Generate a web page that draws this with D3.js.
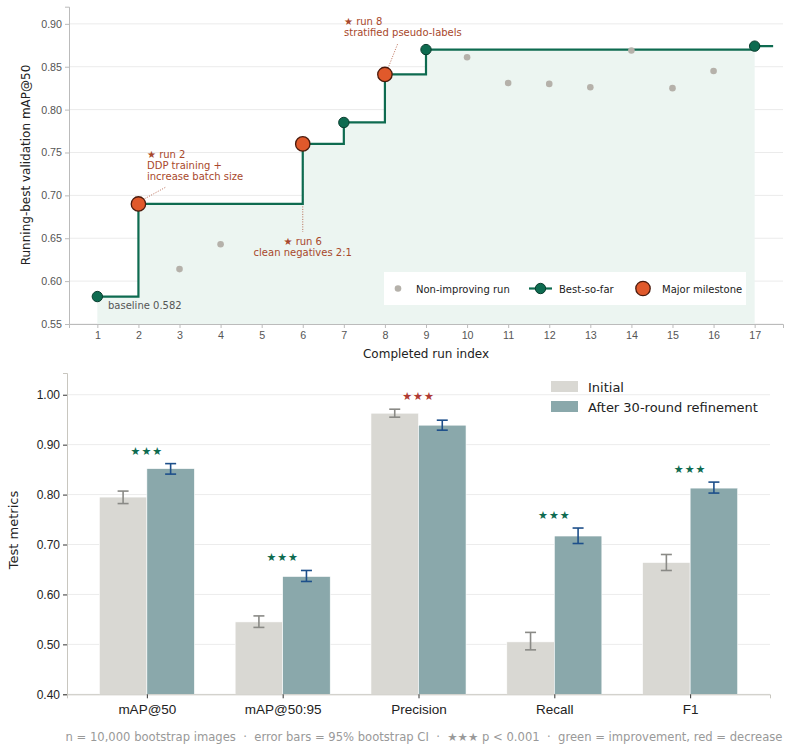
<!DOCTYPE html>
<html>
<head>
<meta charset="utf-8">
<script src="https://cdn.jsdelivr.net/npm/d3@7"></script>
<style>
  body { margin: 0; background: #fff; }
  svg { display: block; font-family: "DejaVu Sans", sans-serif; }
</style>
</head>
<body>
<svg id="chart" width="790" height="751"></svg>
<script>
// ---- top panel data: running-best validation mAP@50 ----
const bestRuns = [1, 2, 6, 7, 8, 9, 17];
const bestScores = [0.582, 0.690, 0.760, 0.785, 0.841, 0.870, 0.874];
const milestoneRuns = [2, 6, 8];
const otherRuns = [3, 4, 10, 11, 12, 13, 14, 15, 16];
const otherScores = [0.614, 0.643, 0.861, 0.831, 0.830, 0.826, 0.869, 0.825, 0.845];
const runTicks = d3.range(1, 18);
const mapTicks = [0.55, 0.60, 0.65, 0.70, 0.75, 0.80, 0.85, 0.90];

// ---- bottom panel data: test metrics ----
const metrics = ["mAP@50", "mAP@50:95", "Precision", "Recall", "F1"];
const initialVals = [0.795, 0.545, 0.963, 0.505, 0.664];
const initialLo = [0.782, 0.534, 0.955, 0.489, 0.648];
const initialHi = [0.807, 0.557, 0.971, 0.524, 0.680];
const refinedVals = [0.852, 0.636, 0.939, 0.717, 0.813];
const refinedLo = [0.841, 0.626, 0.929, 0.702, 0.803];
const refinedHi = [0.862, 0.648, 0.949, 0.733, 0.825];
const improved = [true, true, false, true, true];
const metricTicks = [0.40, 0.50, 0.60, 0.70, 0.80, 0.90, 1.00];

const green = "#0e6b50", orange = "#e0592b", grey = "#b5b1aa";
const noteColor = "#a8482b";
const svg = d3.select("#chart");

// ================= top chart =================
const x1 = d3.scaleLinear().domain([0.31, 17.69]).range([69, 783]);
const y1 = d3.scaleLinear().domain([0.55, 0.92]).range([324, 6.7]);
const topG = svg.append("g");

// grid
topG.append("g").selectAll("line").data(mapTicks).join("line")
  .attr("x1", 69).attr("x2", 783)
  .attr("y1", d => y1(d)).attr("y2", d => y1(d))
  .attr("stroke", "#ebebeb").attr("stroke-width", 1);

const bestPts = bestRuns.map((r, i) => [r, bestScores[i]]);

// filled area under the running best
const area = d3.area().curve(d3.curveStepAfter)
  .x(d => x1(d[0])).y0(y1(0.55)).y1(d => y1(d[1]));
topG.append("path").attr("d", area(bestPts)).attr("fill", "#ecf5f1");

// axes
const yAx1 = topG.append("g").attr("transform", "translate(69,0)")
  .call(d3.axisLeft(y1).tickValues(mapTicks).tickFormat(d3.format(".2f")).tickSize(4).tickPadding(3));
const xAx1 = topG.append("g").attr("transform", "translate(0,324)")
  .call(d3.axisBottom(x1).tickValues(runTicks).tickFormat(d3.format("d")).tickSize(4).tickPadding(3));
[yAx1, xAx1].forEach(a => {
  a.select(".domain").attr("stroke", "#bbb");
  a.selectAll(".tick line").attr("stroke", "#bbb");
  a.selectAll(".tick text").attr("fill", "#555").style("font-size", "10.7px");
});

// milestone annotation leader lines (dotted)
const leader = (xa, ya, xb, yb) => topG.append("line")
  .attr("x1", xa).attr("y1", ya).attr("x2", xb).attr("y2", yb)
  .attr("stroke", noteColor).attr("stroke-width", 0.8).attr("stroke-dasharray", "1,1.5");
leader(x1(2) + 4, y1(0.690) - 4, 166, 187);
leader(x1(6), y1(0.760), x1(6), 232);
leader(x1(8) + 3, y1(0.841) - 6, 398, 43);

// step line
const tail = bestPts.concat([[17.45, bestScores[bestScores.length - 1]]]);
topG.append("path")
  .attr("d", d3.line().curve(d3.curveStepAfter).x(d => x1(d[0])).y(d => y1(d[1]))(tail))
  .attr("fill", "none").attr("stroke", green).attr("stroke-width", 2.2);

// non-improving runs
topG.append("g").selectAll("circle").data(otherRuns).join("circle")
  .attr("cx", d => x1(d)).attr("cy", (d, i) => y1(otherScores[i]))
  .attr("r", 3.3).attr("fill", grey);

// best-so-far markers
topG.append("g").selectAll("circle").data(bestPts.filter(d => !milestoneRuns.includes(d[0]))).join("circle")
  .attr("cx", d => x1(d[0])).attr("cy", d => y1(d[1]))
  .attr("r", 5.2).attr("fill", green).attr("stroke", "#0a3d2e").attr("stroke-width", 1);

// milestones
topG.append("g").selectAll("circle").data(bestPts.filter(d => milestoneRuns.includes(d[0]))).join("circle")
  .attr("cx", d => x1(d[0])).attr("cy", d => y1(d[1]))
  .attr("r", 7.2).attr("fill", orange).attr("stroke", "#4a1a0c").attr("stroke-width", 1.3);

// annotation texts
function note(x, y, lines, anchor) {
  const t = topG.append("text").attr("x", x).attr("y", y).attr("text-anchor", anchor)
    .attr("fill", noteColor).style("font-size", "10px");
  lines.forEach((l, i) => t.append("tspan").attr("x", x).attr("dy", i ? 11.2 : 0).text(l));
}
note(147, 158, ["★ run 2", "DDP training +", "increase batch size"], "start");
note(x1(6), 245, ["★ run 6", "clean negatives 2:1"], "middle");
note(344, 25, ["★ run 8", "stratified pseudo-labels"], "start");

topG.append("text").attr("x", 108).attr("y", 309).attr("fill", "#555")
  .style("font-size", "10px").text("baseline 0.582");

// legend
const lg = topG.append("g").attr("transform", "translate(384,272)");
lg.append("rect").attr("width", 362).attr("height", 33).attr("fill", "#fff");
lg.append("circle").attr("cx", 14).attr("cy", 16.5).attr("r", 3.3).attr("fill", grey);
lg.append("text").attr("x", 32).attr("y", 20.5).text("Non-improving run");
lg.append("line").attr("x1", 145).attr("x2", 168).attr("y1", 16.5).attr("y2", 16.5)
  .attr("stroke", green).attr("stroke-width", 2.2);
lg.append("circle").attr("cx", 156.5).attr("cy", 16.5).attr("r", 5.2).attr("fill", green)
  .attr("stroke", "#0a3d2e");
lg.append("text").attr("x", 175).attr("y", 20.5).text("Best-so-far");
lg.append("circle").attr("cx", 259).attr("cy", 16.5).attr("r", 7.2).attr("fill", orange)
  .attr("stroke", "#4a1a0c").attr("stroke-width", 1.3);
lg.append("text").attr("x", 278).attr("y", 20.5).text("Major milestone");
lg.selectAll("text").attr("fill", "#222").style("font-size", "10px");

// axis titles
topG.append("text").attr("transform", "translate(30,165) rotate(-90)").attr("text-anchor", "middle")
  .attr("fill", "#222").style("font-size", "12px").text("Running-best validation mAP@50");
topG.append("text").attr("x", 426).attr("y", 358).attr("text-anchor", "middle")
  .attr("fill", "#222").style("font-size", "12px").text("Completed run index");

// ================= bottom chart =================
const x2 = d3.scaleLinear().domain([-0.588, 4.588]).range([67, 770]);
const y2 = d3.scaleLinear().domain([0.40, 1.0435]).range([694.3, 373]);
const bw = 0.35;
const bot = svg.append("g");

bot.append("g").selectAll("line").data(metricTicks).join("line")
  .attr("x1", 67).attr("x2", 770)
  .attr("y1", d => y2(d)).attr("y2", d => y2(d))
  .attr("stroke", "#ececec");

const groups = bot.append("g").selectAll("g").data(metrics).join("g");
groups.append("rect")
  .attr("x", (d, i) => x2(i - bw)).attr("width", x2(bw) - x2(0))
  .attr("y", (d, i) => y2(initialVals[i])).attr("height", (d, i) => y2(0.40) - y2(initialVals[i]))
  .attr("fill", "#d9d8d3").attr("stroke", "#fff").attr("stroke-width", 0.6);
groups.append("rect")
  .attr("x", (d, i) => x2(i)).attr("width", x2(bw) - x2(0))
  .attr("y", (d, i) => y2(refinedVals[i])).attr("height", (d, i) => y2(0.40) - y2(refinedVals[i]))
  .attr("fill", "#8aa8ab").attr("stroke", "#fff").attr("stroke-width", 0.6);

function errBar(g, cx, lo, hi, color) {
  g.append("line").attr("x1", cx).attr("x2", cx).attr("y1", y2(lo)).attr("y2", y2(hi))
    .attr("stroke", color).attr("stroke-width", 1.6);
  [lo, hi].forEach(v => g.append("line").attr("x1", cx - 5.5).attr("x2", cx + 5.5)
    .attr("y1", y2(v)).attr("y2", y2(v)).attr("stroke", color).attr("stroke-width", 1.6));
}
groups.each(function (d, i) {
  const g = d3.select(this);
  errBar(g, x2(i - bw / 2), initialLo[i], initialHi[i], "#8a8a86");
  errBar(g, x2(i + bw / 2), refinedLo[i], refinedHi[i], "#1d4f8a");
  g.append("text").attr("x", x2(i)).attr("y", y2(Math.max(initialHi[i], refinedHi[i]) + 0.018))
    .attr("text-anchor", "middle").attr("fill", improved[i] ? "#0e6b50" : "#b03a32")
    .style("font-size", "11px").style("letter-spacing", "1px").text("★★★");
});

const yAx2 = bot.append("g").attr("transform", "translate(67,0)")
  .call(d3.axisLeft(y2).tickValues(metricTicks).tickFormat(d3.format(".2f")).tickSize(4).tickPadding(3));
const xAx2 = bot.append("g").attr("transform", "translate(0,694.3)")
  .call(d3.axisBottom(x2).tickValues(d3.range(metrics.length)).tickFormat(i => metrics[i]).tickSize(4).tickPadding(6));
[yAx2, xAx2].forEach(a => {
  a.select(".domain").attr("stroke", "#c8c6bf");
  a.selectAll(".tick line").attr("stroke", "#333");
  a.selectAll(".tick text").attr("fill", "#222");
});
yAx2.selectAll(".tick text").style("font-size", "12px");
xAx2.selectAll(".tick text").style("font-size", "13.5px");

bot.append("text").attr("transform", "translate(18,530) rotate(-90)").attr("text-anchor", "middle")
  .attr("fill", "#222").style("font-size", "13px").text("Test metrics");

// legend
const lg2 = bot.append("g").attr("transform", "translate(551,381)");
lg2.append("rect").attr("width", 27).attr("height", 11).attr("fill", "#d9d8d3");
lg2.append("rect").attr("y", 20).attr("width", 27).attr("height", 11).attr("fill", "#8aa8ab");
lg2.append("text").attr("x", 37).attr("y", 10.5).text("Initial");
lg2.append("text").attr("x", 37).attr("y", 30.5).text("After 30-round refinement");
lg2.selectAll("text").attr("fill", "#222").style("font-size", "13px");

// footnote
const sep = "\u00a0\u00a0·\u00a0\u00a0";
svg.append("text").attr("x", 424).attr("y", 741).attr("text-anchor", "middle")
  .attr("fill", "#999").style("font-family", "'DejaVu Sans Condensed', 'DejaVu Sans', sans-serif")
  .style("font-size", "11.5px").attr("textLength", 717).attr("lengthAdjust", "spacingAndGlyphs")
  .text("n = 10,000 bootstrap images" + sep + "error bars = 95% bootstrap CI" + sep +
        "★★★ p < 0.001" + sep + "green = improvement, red = decrease");
</script>
</body>
</html>
